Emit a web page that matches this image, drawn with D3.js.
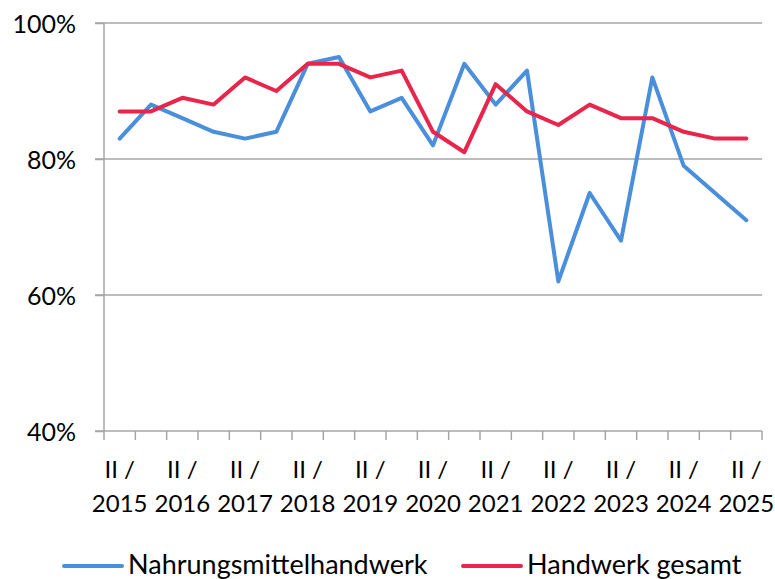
<!DOCTYPE html>
<html>
<head>
<meta charset="utf-8">
<script src="https://cdn.jsdelivr.net/npm/d3@7"></script>
<style>
  body { margin: 0; background: #fff; }
  text { font-family: Lato, "Open Sans", sans-serif; fill: #000; }
</style>
</head>
<body>
<svg width="775" height="579"></svg>
<script>
// half-year periods II/2015 ... II/2025
var periods = ["II/2015","I/2016","II/2016","I/2017","II/2017","I/2018","II/2018","I/2019","II/2019","I/2020","II/2020",
               "I/2021","II/2021","I/2022","II/2022","I/2023","II/2023","I/2024","II/2024","I/2025","II/2025"];
var nahrung = [83, 88, 86, 84, 83, 84, 94, 95, 87, 89, 82, 94, 88, 93, 62, 75, 68, 92, 79, 75, 71];
var gesamt  = [87, 87, 89, 88, 92, 90, 94, 94, 92, 93, 84, 81, 91, 87, 85, 88, 86, 86, 84, 83, 83];
var yTicks = [40, 60, 80, 100];
var seriesNames = ["Nahrungsmittelhandwerk", "Handwerk gesamt"];
var colors = ["#4A8FDB", "#E8254B"];

var svg = d3.select("svg");
var plotL = 104, plotR = 762, plotT = 23, plotB = 431;

var x = d3.scaleBand()
          .domain(periods)
          .range([plotL, plotR]);
var y = d3.scaleLinear()
          .domain([40, 100])
          .range([plotB, plotT]);

// horizontal gridlines with small left ticks
svg.append("g")
   .selectAll("line")
   .data(yTicks.filter(d => d > 40))
   .enter().append("line")
   .attr("x1", plotL - 9)
   .attr("x2", plotR)
   .attr("y1", d => y(d))
   .attr("y2", d => y(d))
   .style("stroke", "#a6a6a6")
   .style("stroke-width", 1.5);

// y axis
var yAxis = d3.axisLeft(y)
              .tickValues(yTicks)
              .tickSize(9)
              .tickFormat(d => d + "%");
var gy = svg.append("g")
   .attr("transform", "translate(" + plotL + ",0)")
   .call(yAxis);
gy.select(".domain").remove();
gy.selectAll("line").style("stroke", "#a6a6a6").style("stroke-width", 1.5);
gy.append("line")
  .attr("x1", 0).attr("x2", 0)
  .attr("y1", plotT).attr("y2", plotB)
  .style("stroke", "#a6a6a6").style("stroke-width", 1.5);
gy.selectAll("text")
  .attr("x", -28)
  .attr("dy", "0.36em")
  .style("font-size", "25px")
  .style("font-family", "Lato");

// x axis: baseline + boundary ticks
var gx = svg.append("g");
gx.append("line")
  .attr("x1", plotL - 9).attr("x2", plotR)
  .attr("y1", plotB).attr("y2", plotB)
  .style("stroke", "#a6a6a6").style("stroke-width", 1.5);
var bounds = periods.map(p => x(p)).concat([plotR]);
gx.selectAll("line.tick")
  .data(bounds)
  .enter().append("line")
  .attr("class", "tick")
  .attr("x1", d => d).attr("x2", d => d)
  .attr("y1", plotB).attr("y2", plotB + 9)
  .style("stroke", "#a6a6a6").style("stroke-width", 1.5);

var labels = gx.selectAll("text")
  .data(periods.filter(p => p.indexOf("II/") === 0))
  .enter().append("text")
  .attr("text-anchor", "middle")
  .style("font-size", "24px");
labels.append("tspan")
  .attr("x", d => x(d) + x.bandwidth() / 2)
  .attr("y", 478)
  .text("II /");
labels.append("tspan")
  .attr("x", d => x(d) + x.bandwidth() / 2)
  .attr("y", 512)
  .text(d => d.split("/")[1]);

// lines
var line = d3.line()
             .x((d, i) => x(periods[i]) + x.bandwidth() / 2)
             .y(d => y(d));
[nahrung, gesamt].forEach((vals, k) => {
  svg.append("path")
     .datum(vals)
     .attr("d", line)
     .style("fill", "none")
     .style("stroke", colors[k])
     .style("stroke-width", 4)
     .style("stroke-linejoin", "round")
     .style("stroke-linecap", "round");
});

// legend
var legendX = [64, 463];
var leg = svg.selectAll("g.legend")
  .data(seriesNames)
  .enter().append("g")
  .attr("class", "legend")
  .attr("transform", (d, i) => "translate(" + legendX[i] + ",566)");
leg.append("line")
   .attr("x1", 0).attr("x2", 58)
   .style("stroke", (d, i) => colors[i])
   .style("stroke-width", 4)
   .style("stroke-linecap", "round");
leg.append("text")
   .attr("x", 64)
   .attr("y", 8)
   .style("font-size", "27px")
   .text(d => d);
</script>
</body>
</html>
